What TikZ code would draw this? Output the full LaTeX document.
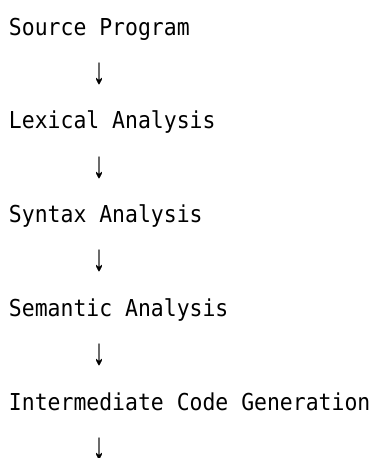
\documentclass[tikz,border=0pt]{standalone}
\usepackage{fontspec}
\newfontfamily\codefont[FakeStretch=0.92]{DejaVu Sans Mono}
\newfontfamily\arrowfont[FakeStretch=0.65,FakeBold=1]{Liberation Sans}
\begin{document}
\begin{tikzpicture}[x=1pt,y=1pt,
  line/.style={anchor=base west,inner sep=0pt,outer sep=0pt,font=\codefont\fontsize{23.3}{26}\selectfont},
  arr/.style={anchor=base,inner sep=0pt,outer sep=0pt,font=\arrowfont\fontsize{36}{40}\selectfont}]
\useasboundingbox (0,0) rectangle (373,-458);
\node[line] (t1) at (9,-35) {Source Program};
\node[arr] (a1) at (99,-83) {↓};
\node[line] (t2) at (9,-128) {Lexical Analysis};
\node[arr] (a2) at (99,-177) {↓};
\node[line] (t3) at (9,-222) {Syntax Analysis};
\node[arr] (a3) at (99,-270) {↓};
\node[line] (t4) at (9,-316) {Semantic Analysis};
\node[arr] (a4) at (99,-364) {↓};
\node[line] (t5) at (9,-410) {Intermediate Code Generation};
\node[arr] (a5) at (99,-458) {↓};
\end{tikzpicture}
\end{document}
